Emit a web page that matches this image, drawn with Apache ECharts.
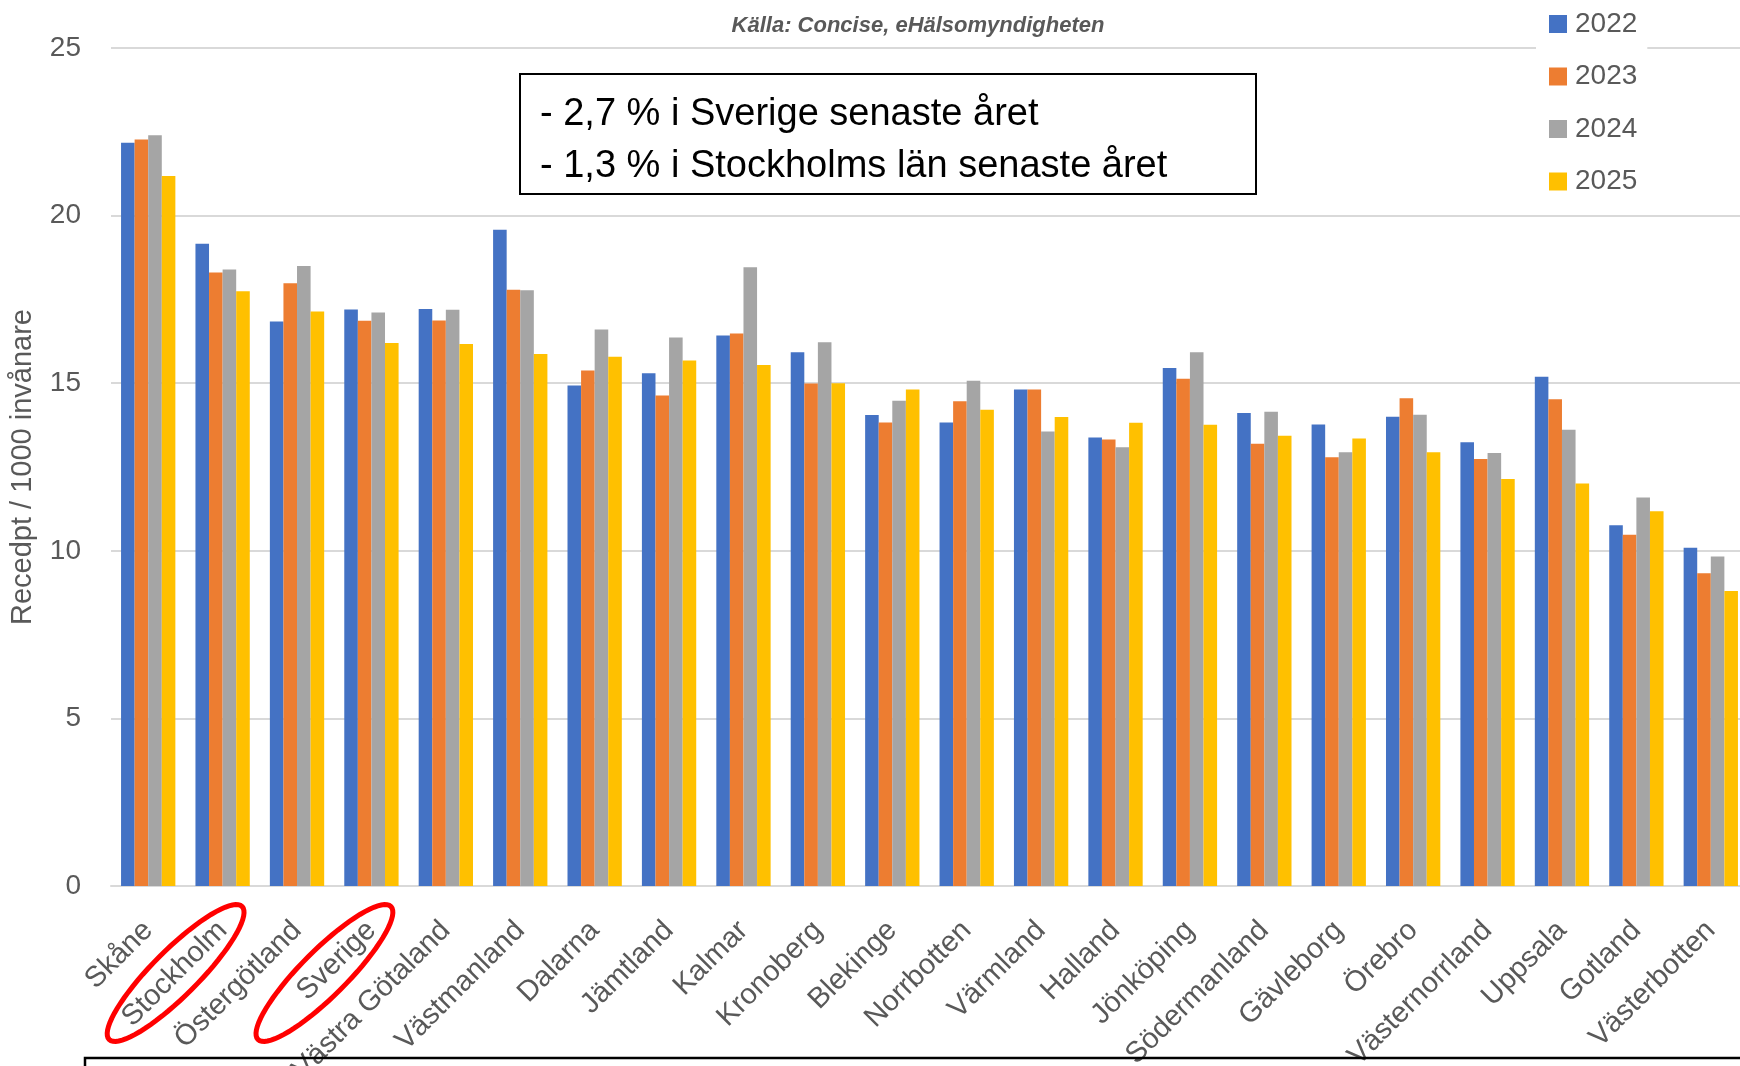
<!DOCTYPE html>
<html>
<head>
<meta charset="utf-8">
<script src="https://cdn.jsdelivr.net/npm/echarts@6/dist/echarts.min.js"></script>
<style>
	html,body{margin:0;padding:0;background:#fff;}
	#chart{width:1740px;height:1066px;}
</style>
</head>
<body>
<div id="chart"></div>
<script>
//------------------------数据-开始------------------//
var regions = ['Skåne','Stockholm','Östergötland','Sverige','Västra Götaland','Västmanland','Dalarna','Jämtland','Kalmar','Kronoberg','Blekinge','Norrbotten','Värmland','Halland','Jönköping','Södermanland','Gävleborg','Örebro','Västernorrland','Uppsala','Gotland','Västerbotten'];
var years = ['2022','2023','2024','2025'];
var values2022 = [22.17,19.16,16.84,17.20,17.21,19.58,14.93,15.30,16.42,15.92,14.05,13.83,14.81,13.38,15.45,14.11,13.77,14.00,13.24,15.19,10.76,10.09];
var values2023 = [22.27,18.30,17.98,16.86,16.87,17.79,15.38,14.63,16.48,14.99,13.83,14.46,14.81,13.32,15.13,13.19,12.79,14.55,12.74,14.52,10.48,9.33];
var values2024 = [22.40,18.39,18.50,17.11,17.19,17.77,16.60,16.36,18.46,16.22,14.48,15.07,13.56,13.09,15.92,14.15,12.94,14.06,12.92,13.61,11.59,9.83];
var values2025 = [21.18,17.74,17.14,16.20,16.17,15.87,15.79,15.68,15.54,15.00,14.81,14.21,13.99,13.82,13.76,13.43,13.35,12.94,12.14,12.01,11.18,8.80];
var yTicks = [0,5,10,15,20,25];
var circled = ['Stockholm','Sverige'];
var noteLines = ['- 2,7 % i Sverige senaste året','- 1,3 % i Stockholms län senaste året'];
//------------------------数据-结束------------------//

var colors = ['#4472C4','#ED7D31','#A5A5A5','#FFC000'];
var seriesData = [values2022, values2023, values2024, values2025];
var textGray = '#595959';
var fontName = '"Liberation Sans", Arial, sans-serif';

function makeSeries()
{
	var list = [];
	years.forEach(function(y, i){
		list.push({
			name: y,
			type: 'bar',
			data: seriesData[i],
			barGap: '0%',
			barCategoryGap: '27%',
			itemStyle: {color: colors[i]},
			emphasis: {disabled: true}
		});
	});
	return list;
}

// ellipse as polygon points
function ellipsePoints(cx, cy, a, b)
{
	var pts = [];
	var k = Math.SQRT1_2;
	for (var n = 0; n < 72; n++) {
		var t = n / 72 * Math.PI * 2;
		var ca = a * Math.cos(t), sb = b * Math.sin(t);
		pts.push([cx + ca * k + sb * k, cy - ca * k + sb * k]);
	}
	return pts;
}

var myChart = echarts.init(document.getElementById('chart'), null, {renderer: 'canvas'});

var option = {
	animation: false,
	textStyle: {fontFamily: fontName},
	color: colors,
	grid: {left: 111, top: 48, width: 1637, height: 838, containLabel: false, outerBoundsMode: 'none'},
	legend: {
		data: years,
		orient: 'vertical',
		left: 1536,
		top: 5,
		padding: [5, 10, 5, 13],
		backgroundColor: '#fff',
		icon: 'rect',
		itemWidth: 18,
		itemHeight: 18,
		itemGap: 24.5,
		textStyle: {fontSize: 28, lineHeight: 28, color: textGray, fontFamily: fontName, padding: [0, 0, 0, 3]}
	},
	xAxis: {
		type: 'category',
		data: regions,
		axisTick: {show: false},
		axisLine: {lineStyle: {color: '#d9d9d9', width: 2}},
		axisLabel: {
			interval: 0,
			rotate: 45,
			margin: 40,
			fontSize: 29,
			color: textGray,
			fontFamily: fontName
		}
	},
	yAxis: {
		type: 'value',
		min: yTicks[0],
		max: yTicks[yTicks.length - 1],
		interval: yTicks[1] - yTicks[0],
		name: 'Recedpt / 1000 invånare',
		nameLocation: 'middle',
		nameGap: 74,
		nameTextStyle: {fontSize: 29, color: textGray, fontFamily: fontName},
		axisLine: {show: false},
		axisTick: {show: false},
		axisLabel: {margin: 30, fontSize: 28, color: textGray, fontFamily: fontName},
		splitLine: {lineStyle: {color: '#d9d9d9', width: 2}}
	},
	series: makeSeries()
};
myChart.setOption(option);

//------------------------注释图形-开始------------------//
var axisY = myChart.convertToPixel({yAxisIndex: 0}, 0);
var graphics = [
	{
		type: 'text',
		style: {
			x: 918, y: 26,
			text: 'Källa: Concise, eHälsomyndigheten',
			fontSize: 22, fontStyle: 'italic', fontWeight: 'bold',
			fill: textGray, fontFamily: fontName,
			align: 'center', verticalAlign: 'middle'
		}
	},
	{
		type: 'rect',
		shape: {x: 520, y: 74, width: 736, height: 120},
		style: {fill: '#fff', stroke: '#000', lineWidth: 2},
		z: 50
	},
	{
		type: 'rect',
		shape: {x: 85, y: 1058, width: 1700, height: 100},
		style: {fill: 'none', stroke: '#000', lineWidth: 2.5},
		z: 50
	}
];

noteLines.forEach(function(line, i){
	graphics.push({
		type: 'text',
		z: 51,
		style: {
			x: 540, y: 115 + i * 52,
			text: line,
			fontSize: 38, fill: '#000', fontFamily: fontName,
			verticalAlign: 'middle'
		}
	});
});

circled.forEach(function(name){
	var px = myChart.convertToPixel({xAxisIndex: 0}, name);
	graphics.push({
		type: 'polygon',
		z: 60,
		shape: {points: ellipsePoints(px - 47, axisY + 87, 94, 23)},
		style: {fill: 'none', stroke: '#ff0000', lineWidth: 5}
	});
});

myChart.setOption({graphic: graphics});
//------------------------注释图形-结束------------------//
</script>
</body>
</html>
